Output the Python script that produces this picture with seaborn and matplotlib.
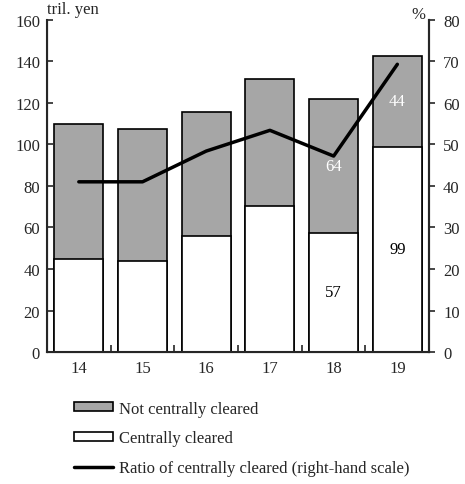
import numpy as np
import pandas as pd
import matplotlib
matplotlib.use("Agg")
import matplotlib.pyplot as plt
import seaborn as sns
from matplotlib.patches import Patch
from matplotlib.lines import Line2D
from matplotlib.ticker import MultipleLocator, FixedLocator

# data
years = ["14", "15", "16", "17", "18", "19"]
cleared = [44.7, 43.7, 55.9, 70.2, 57.5, 98.9]
not_cleared = [65.0, 63.8, 59.8, 61.4, 64.4, 43.9]
ratio = [41.0, 41.0, 48.4, 53.4, 47.2, 69.3]
shown_labels = {4: ("57", "64"), 5: ("99", "44")}

df = pd.DataFrame({"year": years, "cleared": cleared, "not_cleared": not_cleared})
df["total"] = df["cleared"] + df["not_cleared"]

FS = 12
sns.set_style("ticks")
plt.rcParams["font.family"] = ["Liberation Serif", "DejaVu Serif"]
plt.rcParams["font.size"] = FS

fig = plt.figure(figsize=(4.65, 4.85), dpi=100)
ax = fig.add_axes([0.101, 0.272, 0.822, 0.685])

sns.barplot(data=df, x="year", y="total", color="#a6a6a6", saturation=1,
            edgecolor="black", linewidth=1.2, width=0.77, ax=ax)
sns.barplot(data=df, x="year", y="cleared", color="white", saturation=1,
            edgecolor="black", linewidth=1.2, width=0.77, ax=ax)

ax.set_xlim(-0.5, len(years) - 0.5)
ax.set_ylim(0, 160)
ax.yaxis.set_major_locator(MultipleLocator(20))
ax.set_xlabel("")
ax.set_ylabel("")
ax.tick_params(axis="x", which="major", length=0, pad=6, labelsize=FS)
ax.xaxis.set_minor_locator(FixedLocator(np.arange(0.5, len(years) - 1, 1)))
ax.tick_params(axis="x", which="minor", direction="in", length=5, width=1.2)
ax.tick_params(axis="y", direction="in", length=4, width=1.2, labelsize=FS, pad=5)
for s in ["left", "bottom", "right"]:
    ax.spines[s].set_linewidth(1.5)
ax.spines["top"].set_visible(False)

# value labels for the last two years
for i, (lo, hi) in shown_labels.items():
    ax.text(i, df["cleared"][i] / 2, lo, ha="center", va="center",
            color="black", fontsize=FS)
    ax.text(i, df["cleared"][i] + df["not_cleared"][i] / 2, hi,
            ha="center", va="center", color="white", fontsize=FS)

ax2 = ax.twinx()
sns.lineplot(x=np.arange(len(years)), y=ratio, color="black", linewidth=2.5, ax=ax2)
ax2.set_ylim(0, 80)
ax2.yaxis.set_major_locator(MultipleLocator(10))
ax2.tick_params(axis="y", direction="out", length=4, width=1.2, labelsize=FS, pad=6)
ax2.spines["top"].set_visible(False)
ax2.spines["right"].set_linewidth(1.5)

fig.text(0.101, 0.971, "tril. yen", ha="left", va="baseline", fontsize=FS)
fig.text(0.914, 0.961, "%", ha="right", va="baseline", fontsize=FS)

handles = [
    Patch(facecolor="#a6a6a6", edgecolor="black", linewidth=1.2),
    Patch(facecolor="white", edgecolor="black", linewidth=1.2),
    Line2D([], [], color="black", linewidth=2.5),
]
labels = ["Not centrally cleared", "Centrally cleared",
          "Ratio of centrally cleared (right-hand scale)"]
fig.legend(handles, labels, loc="upper left", bbox_to_anchor=(0.16, 0.172),
           frameon=False, handlelength=2.3, handleheight=0.42,
           handletextpad=0.4, labelspacing=0.82, fontsize=FS,
           borderaxespad=0, borderpad=0)

fig.savefig("out.png", dpi=100)
